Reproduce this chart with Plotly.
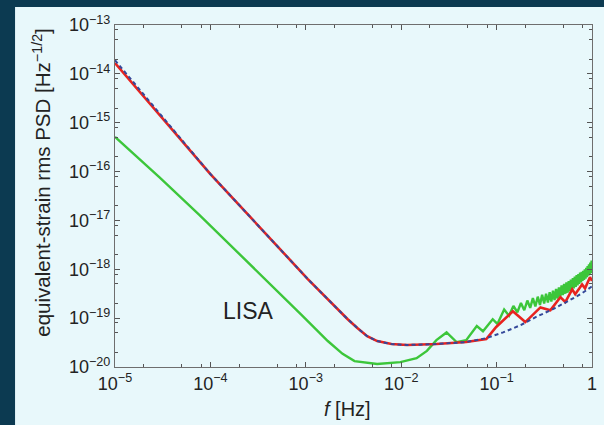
import plotly.graph_objects as go

# Instrument sensitivity curve (solid red), frequencies in Hz
red_f = [1e-5, 1e-4, 1.05e-3, 1.7e-3, 2.16e-3, 2.75e-3, 3.47e-3, 3.9e-3, 4.4e-3, 5.6e-3,
         6.8e-3, 7.9e-3, 1.15e-2, 2.34e-2, 4.8e-2, 7.8e-2, 0.099, 0.148, 0.20, 0.288, 0.366,
         0.466, 0.525, 0.62, 0.667, 0.787, 0.845, 0.953, 1.0]
red_h = [1.66e-14, 8.9e-17, 6.3e-19, 2.45e-19, 1.5e-19, 9.5e-20, 6.3e-20, 5.1e-20, 4.27e-20, 3.39e-20,
         3.1e-20, 2.95e-20, 2.82e-20, 2.95e-20, 3.24e-20, 3.72e-20, 6.6e-20, 1.38e-19, 8.3e-20,
         1.66e-19, 1.45e-19, 2.69e-19, 2.14e-19, 3.89e-19, 3.09e-19, 4.9e-19, 4.07e-19, 6.9e-19,
         5.75e-19]

# Smooth analytic approximation (dashed blue)
blue_f = [1e-5, 1e-4, 1.05e-3, 1.7e-3, 2.16e-3, 2.75e-3, 3.47e-3, 3.9e-3, 4.4e-3, 5.6e-3,
          6.8e-3, 7.9e-3, 1.15e-2, 2.34e-2, 4.8e-2, 7.8e-2, 0.117, 0.179, 0.257, 0.385, 0.564,
          0.787, 1.0]
blue_h = [1.9e-14, 8.9e-17, 6.3e-19, 2.45e-19, 1.5e-19, 9.5e-20, 6.3e-20, 5.1e-20, 4.27e-20, 3.39e-20,
          3.1e-20, 2.95e-20, 2.82e-20, 2.95e-20, 3.24e-20, 3.9e-20, 5.1e-20, 7.2e-20, 1.05e-19,
          1.51e-19, 2.24e-19, 3.24e-19, 4.47e-19]

# Second detector curve (green)
green_f = [1e-5, 2.93e-5, 7.6e-5, 2.5e-4, 8.9e-4, 1.7e-3, 2.43e-3, 3.24e-3, 5.6e-3,
           9.8e-3, 1.45e-2, 1.86e-2, 2.34e-2, 2.99e-2, 3.8e-2, 4.8e-2, 6.2e-2, 7.2e-2,
           9.1e-2, 0.102, 0.12, 0.135,
           0.15, 0.165, 0.18, 0.195, 0.21, 0.225, 0.24, 0.255, 0.27, 0.285,
           0.30, 0.315, 0.33, 0.345, 0.36, 0.375, 0.39, 0.405, 0.42, 0.435,
           0.45, 0.465, 0.48, 0.495, 0.51, 0.525, 0.54, 0.555, 0.57, 0.585,
           0.60, 0.615, 0.63, 0.645, 0.66, 0.675, 0.69, 0.705, 0.72, 0.735,
           0.75, 0.765, 0.78, 0.795, 0.81, 0.825, 0.84, 0.855, 0.87, 0.885,
           0.90, 0.915, 0.93, 0.945, 0.96, 0.975, 0.99, 1.0]
green_h = [5.1e-16, 7.6e-17, 1.32e-17, 1.38e-18, 1.2e-19, 3.4e-20, 1.86e-20, 1.32e-20, 1.15e-20,
           1.26e-20, 1.51e-20, 2.14e-20, 3.55e-20, 5.1e-20, 3.24e-20, 3.55e-20, 6.9e-20, 5.4e-20,
           9.5e-20, 7.6e-20, 1.5e-19, 1.12e-19,
           1.78e-19, 1.32e-19, 2.04e-19, 1.45e-19, 2.29e-19, 1.62e-19, 2.57e-19, 1.74e-19, 2.75e-19, 1.86e-19,
           3.02e-19, 2.00e-19, 3.16e-19, 2.09e-19, 3.39e-19, 2.19e-19, 3.63e-19, 2.34e-19, 3.98e-19, 2.51e-19,
           4.27e-19, 2.75e-19, 4.68e-19, 2.95e-19, 5.01e-19, 3.16e-19, 5.37e-19, 3.31e-19, 5.75e-19, 3.55e-19,
           6.17e-19, 3.80e-19, 6.61e-19, 4.07e-19, 7.08e-19, 4.37e-19, 7.59e-19, 4.68e-19, 7.94e-19, 5.01e-19,
           8.51e-19, 5.37e-19, 8.91e-19, 5.75e-19, 9.33e-19, 6.03e-19, 1.00e-18, 6.46e-19, 1.07e-18, 6.92e-19,
           1.17e-18, 7.41e-19, 1.26e-18, 7.94e-19, 1.38e-18, 8.32e-19, 1.51e-18, 1.15e-18]

# Axis decades and their labels
x_exps = [-5, -4, -3, -2, -1, 0]
y_exps = [-20, -19, -18, -17, -16, -15, -14, -13]


def decade_label(e):
    return "1" if e == 0 else "10<sup>\u2212%d</sup>" % (-e)


x_major = [10.0 ** e for e in x_exps]
y_major = [10.0 ** e for e in y_exps]
x_minor = [m * 10.0 ** e for e in x_exps[:-1] for m in (2, 5, 8)]
y_minor = [m * 10.0 ** e for e in y_exps[:-1] for m in (2, 5, 8)]

FONT = "Liberation Sans, Arial, Helvetica, sans-serif"
TXT = "#232323"
PANEL = "#e8f8fb"

fig = go.Figure()
fig.add_trace(go.Scatter(x=green_f, y=green_h, mode="lines",
                         line=dict(color="#3cc63a", width=2.4), hoverinfo="skip"))
fig.add_trace(go.Scatter(x=red_f, y=red_h, mode="lines",
                         line=dict(color="#e8231f", width=2.6), hoverinfo="skip"))
fig.add_trace(go.Scatter(x=blue_f, y=blue_h, mode="lines",
                         line=dict(color="#34489a", width=2, dash="4px,3px"), hoverinfo="skip"))

axis_common = dict(
    type="log", tickmode="array", showgrid=False, zeroline=False,
    showline=True, linecolor="#6e6e6e", linewidth=1, mirror="allticks",
    ticks="inside", ticklen=5, tickwidth=1, tickcolor="#555555",
    tickfont=dict(family=FONT, size=18, color=TXT),
)

fig.update_layout(
    width=604, height=425,
    margin=dict(l=115, r=7, t=25, b=58),
    paper_bgcolor="#0c3a51", plot_bgcolor=PANEL,
    showlegend=False,
    xaxis=dict(range=[-5, 0], tickvals=x_major, ticktext=[decade_label(e) for e in x_exps],
               **axis_common,
               minor=dict(ticks="inside", ticklen=3, tickcolor="#555555",
                          tickmode="array", tickvals=x_minor)),
    yaxis=dict(range=[-20, -13], tickvals=y_major, ticktext=[decade_label(e) for e in y_exps],
               **axis_common,
               minor=dict(ticks="inside", ticklen=3, tickcolor="#555555",
                          tickmode="array", tickvals=y_minor)),
    shapes=[dict(type="rect", xref="paper", yref="paper", layer="below",
                 x0=(14 - 115) / 482, x1=1.03, y0=-0.2, y1=(367 - 7) / 342,
                 line=dict(width=0), fillcolor=PANEL)],
    annotations=[
        dict(text="equivalent-strain rms PSD [Hz<sup>\u22121/2</sup>]", textangle=-90,
             xref="paper", yref="paper", x=(41 - 115) / 482, y=(367 - 182) / 342,
             xanchor="center", yanchor="middle", showarrow=False,
             font=dict(family=FONT, size=20.5, color=TXT)),
        dict(text="<i>f</i> [Hz]", xref="paper", yref="paper",
             x=(350 - 115) / 482, y=(367 - 409) / 342,
             xanchor="center", yanchor="middle", showarrow=False,
             font=dict(family=FONT, size=20, color=TXT)),
        dict(text="LISA", xref="paper", yref="paper",
             x=(250 - 115) / 482, y=(367 - 311) / 342,
             xanchor="center", yanchor="middle", showarrow=False,
             font=dict(family=FONT, size=23, color=TXT)),
    ],
)

fig.write_html("out.html")
